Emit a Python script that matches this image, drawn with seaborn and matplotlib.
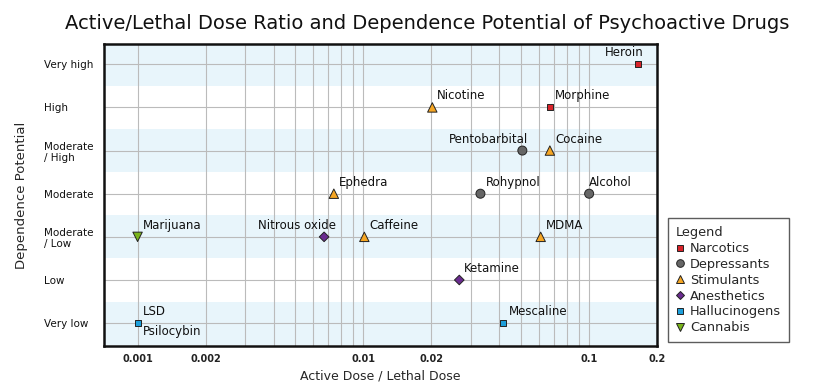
import numpy as np
import pandas as pd
import matplotlib
matplotlib.use('Agg')
import matplotlib.pyplot as plt
import seaborn as sns
from matplotlib.lines import Line2D
from matplotlib.ticker import FixedLocator, NullFormatter

# ── data ─────────────────────────────────────────────────
levels = ['Very low', 'Low', 'Moderate\n/ Low', 'Moderate',
          'Moderate\n/ High', 'High', 'Very high']

drugs = ['Heroin', 'Nicotine', 'Morphine', 'Pentobarbital', 'Cocaine',
         'Rohypnol', 'Alcohol', 'Ephedra', 'Marijuana', 'Nitrous oxide',
         'Caffeine', 'MDMA', 'Ketamine', 'LSD', 'Mescaline']
ratio = [0.165, 0.0202, 0.067, 0.0506, 0.067,
         0.033, 0.1, 0.0074, 0.001, 0.0067,
         0.0101, 0.061, 0.0266, 0.001, 0.0417]
dependence = [6, 5, 5, 4, 4,
              3, 3, 3, 2, 2,
              2, 2, 1, 0, 0]
drug_class = ['Narcotics', 'Stimulants', 'Narcotics', 'Depressants', 'Stimulants',
              'Depressants', 'Depressants', 'Stimulants', 'Cannabis', 'Anesthetics',
              'Stimulants', 'Stimulants', 'Anesthetics', 'Hallucinogens', 'Hallucinogens']

classes = ['Narcotics', 'Depressants', 'Stimulants', 'Anesthetics', 'Hallucinogens', 'Cannabis']
colors = ['#d8232a', '#666666', '#f6a623', '#6a2b8f', '#1d9fdb', '#79b41a']
markers = ['s', 'o', '^', 'D', 's', 'v']
sizes = [18, 42, 46, 24, 18, 46]

x_ticks = [0.001, 0.002, 0.01, 0.02, 0.1, 0.2]
x_tick_labels = ['0.001', '0.002', '0.01', '0.02', '0.1', '0.2']
x_grid = [m * 10.0 ** e for e in (-3, -2, -1) for m in range(1, 10)] + [0.2]

# label placement (pixel offsets, alignment) per drug
label_pos = {
    'Heroin': (5, 5, 'right', 'bottom'),
    'Pentobarbital': (6, 5, 'right', 'bottom'),
    'Nitrous oxide': (12, 5, 'right', 'bottom'),
    'Alcohol': (0, 5, 'left', 'bottom'),
}

df = pd.DataFrame({'drug': drugs, 'ratio': ratio,
                   'dependence': dependence, 'cls': drug_class})

sns.set_theme(style='white')
plt.rcParams['font.family'] = ['DejaVu Sans']

fig = plt.figure(figsize=(8.17, 3.85), dpi=100)
ax = fig.add_axes([0.1273, 0.1013, 0.6770, 0.7844])

# alternating light blue bands
for i in range(0, len(levels), 2):
    ax.axhspan(i - 0.5, i + 0.5, color='#e8f5fb', zorder=0, lw=0)

sns.scatterplot(data=df, x='ratio', y='dependence', hue='cls', style='cls',
                size='cls', hue_order=classes, style_order=classes,
                size_order=classes,
                palette=dict(zip(classes, colors)),
                markers=dict(zip(classes, markers)),
                sizes=dict(zip(classes, sizes)),
                edgecolor='#222222', linewidth=0.7, legend=False,
                zorder=3, ax=ax)

for _, r in df.iterrows():
    dx, dy, ha, va = label_pos.get(r['drug'], (5, 5, 'left', 'bottom'))
    ax.annotate(r['drug'], (r['ratio'], r['dependence']), xytext=(dx, dy),
                textcoords='offset pixels', ha=ha, va=va, fontsize=8.5,
                color='#111111', zorder=4)
ax.annotate('Psilocybin', (0.001, 0), xytext=(5, -2), textcoords='offset pixels',
            ha='left', va='top', fontsize=8.5, color='#111111', zorder=4)

ax.set_xscale('log')
ax.set_xlim(0.00071, 0.2)
ax.set_ylim(-0.53, 6.47)

ax.xaxis.set_major_locator(FixedLocator(x_ticks))
ax.set_xticklabels(x_tick_labels, fontsize=7, fontweight='bold', color='#222222')
ax.xaxis.set_minor_locator(FixedLocator(x_grid))
ax.xaxis.set_minor_formatter(NullFormatter())
ax.grid(True, which='both', axis='x', color='#bbbbbb', lw=0.8, zorder=1)

ax.set_yticks(range(len(levels)))
ax.set_yticklabels(levels, fontsize=7.5, color='#111111')
ax.grid(True, which='major', axis='y', color='#bbbbbb', lw=0.8, zorder=1)
ax.set_axisbelow(True)
ax.tick_params(axis='both', which='both', length=0)
ax.tick_params(axis='y', pad=43)
for lab in ax.get_yticklabels():
    lab.set_horizontalalignment('left')
ax.tick_params(axis='x', pad=6)

for sp in ax.spines.values():
    sp.set_color('#111111')
    sp.set_linewidth(1.8)

ax.set_xlabel('Active Dose / Lethal Dose', fontsize=9, labelpad=4)
ax.set_ylabel('Dependence Potential', fontsize=9.5, labelpad=12)

fig.text(0.523, 0.94, 'Active/Lethal Dose Ratio and Dependence Potential of Psychoactive Drugs',
         ha='center', va='center', fontsize=14, color='#111111')

handles = [Line2D([], [], marker=m, ls='', markerfacecolor=c, markeredgecolor='#222222',
                  markeredgewidth=0.7, markersize=np.sqrt(s) * 0.85)
           for m, c, s in zip(markers, colors, sizes)]
leg = fig.legend(handles, classes, title='Legend', loc='lower left',
                 bbox_to_anchor=(0.8176, 0.1117), fontsize=9.3, title_fontsize=9.3,
                 alignment='left', frameon=True, fancybox=False, handlelength=0.7,
                 handletextpad=0.4, labelspacing=0.22, borderpad=0.6,
                 borderaxespad=0)
leg.get_frame().set_edgecolor('#333333')
leg.get_frame().set_linewidth(1.0)

fig.savefig('out.png', dpi=100)
